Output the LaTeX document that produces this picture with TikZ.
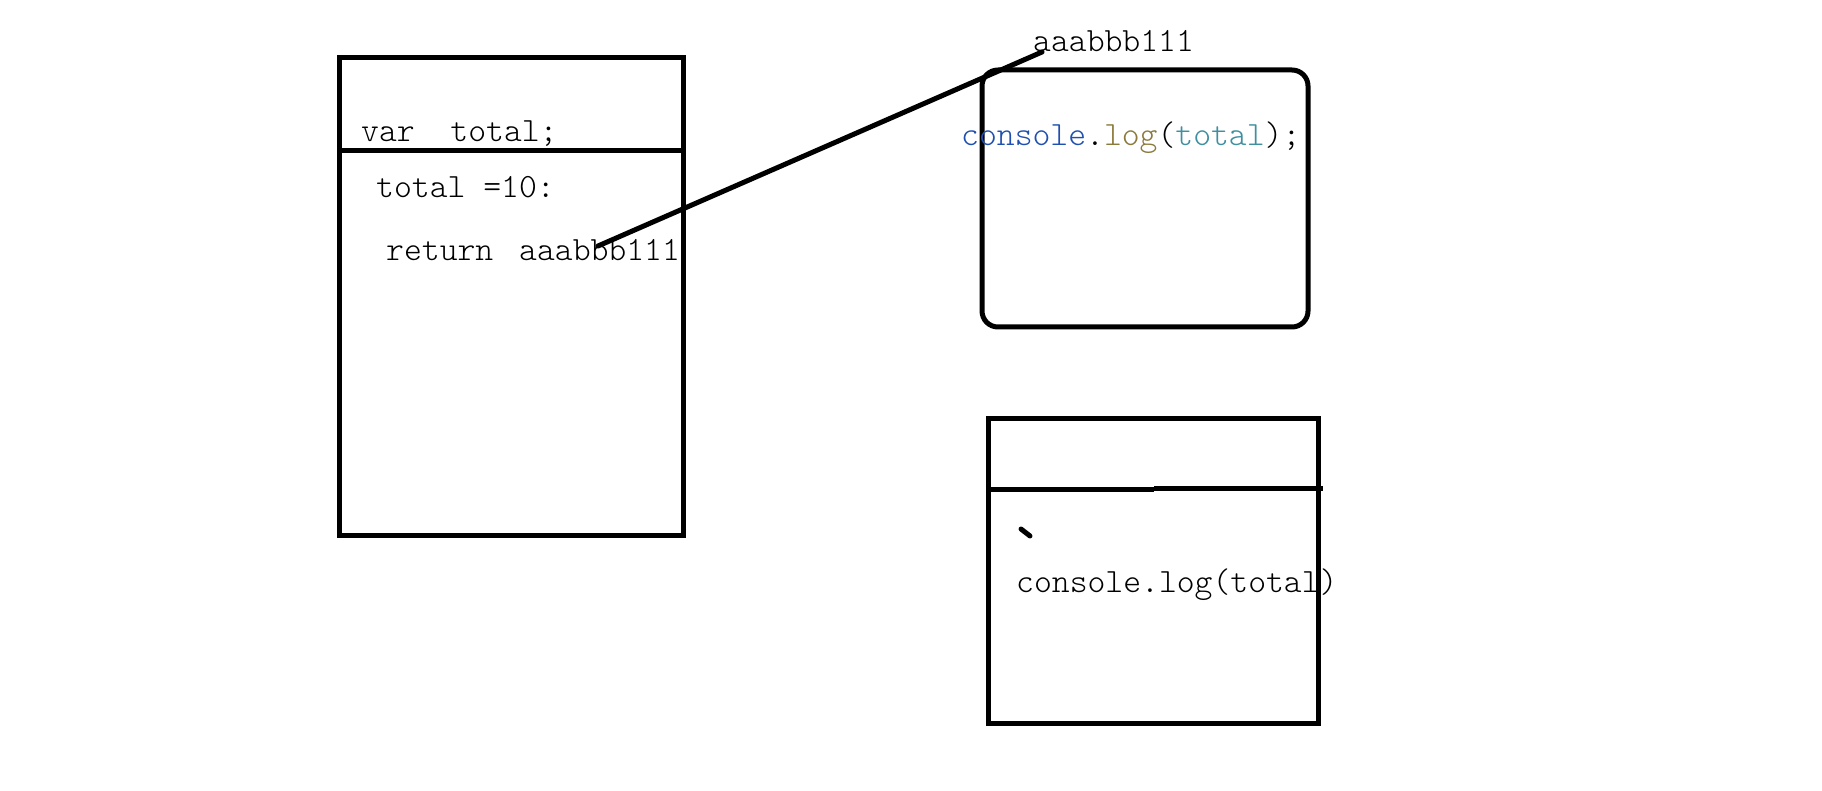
\documentclass[tikz,border=0pt]{standalone}
\usepackage{fontspec}
\newfontfamily\codefont{Latin Modern Mono Light}
\definecolor{kwblue}{HTML}{1F4FB0}
\definecolor{fnolive}{HTML}{8C7A3C}
\definecolor{varteal}{HTML}{3E8FA0}
\begin{document}
\begin{tikzpicture}[x=1pt,y=-1pt,
  box/.style={line width=5pt},
  conn/.style={line width=5pt,line cap=round},
  code/.style={inner sep=0pt,anchor=base west,font=\codefont\fontsize{34}{40}\selectfont}]
\useasboundingbox[fill=white] (0,0) rectangle (1822,791);
% left box
\draw[box] (339,58) rectangle (683,535);
\draw[box] (339,151) -- (681,151);
\node[code] (vartotal) at (361,142) {var\ \ total;};
\node[code] (assign) at (376,198) {total =10:};
\node[code] (ret) at (386,261) {return};
\node[code] (retval) at (519,261) {aaabbb111};
% rounded box
\draw[box,rounded corners=16pt] (982,70) rectangle (1308,327);
\node[code] (toplabel) at (1033,52) {aaabbb111};
\node[code] (log1) at (961,146) {\textcolor{kwblue}{console}.\textcolor{fnolive}{log}(\textcolor{varteal}{total});};
% bottom box
\draw[box] (988,418) rectangle (1318,723);
\draw[box] (988,489) -- (1154,489);
\draw[box] (1154,488) -- (1323,488);
\coordinate (tickA) at (1021,529);
\coordinate (tickB) at (1030,536);
\draw[conn] (tickA) -- (tickB);
\node[code] (log2) at (1016,592) {console.log(total)};
% connector
\coordinate (retend) at (598,246);
\coordinate (labend) at (1042,52);
\draw[conn] (retend) -- (labend);
\end{tikzpicture}
\end{document}
